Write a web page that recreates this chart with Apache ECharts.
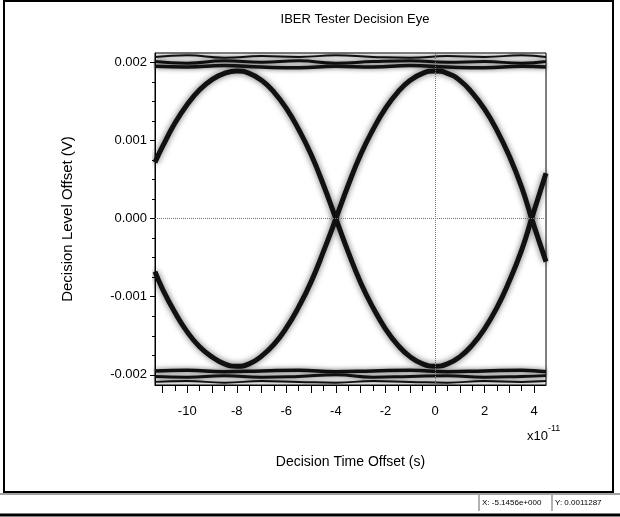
<!DOCTYPE html>
<html>
<head>
<meta charset="utf-8">
<script src="https://cdn.jsdelivr.net/npm/echarts@6/dist/echarts.min.js"></script>
<style>
  html, body { margin: 0; padding: 0; background: #fff; }
  #chart { width: 620px; height: 517px; }
</style>
</head>
<body>
<div id="chart"></div>
<script>
// x values are in units of 1e-11 s, y values in volts
const xMajorTicks = [-11, -10, -9, -8, -7, -6, -5, -4, -3, -2, -1, 0, 1, 2, 3, 4];
const xMinorTicks = [-10.5, -9.5, -8.5, -7.5, -6.5, -5.5, -4.5, -3.5, -2.5, -1.5, -0.5, 0.5, 1.5, 2.5, 3.5];
const xLabels = [-10, -8, -6, -4, -2, 0, 2, 4];
const yLabels = [-0.002, -0.001, 0, 0.001, 0.002];
const yMinorTicks = [-0.00175, -0.0015, -0.00125, -0.00075, -0.0005, -0.00025,
                     0.00025, 0.0005, 0.00075, 0.00125, 0.0015, 0.00175];

// transition trace with its top at -8 and bottom at 0
const traceA = [[-11.3, 0.00072], [-11, 0.00092], [-10.5, 0.00122], [-10, 0.00146], [-9.5, 0.00165],
  [-9, 0.00178], [-8.5, 0.00186], [-8, 0.00189], [-7.5, 0.00186], [-7, 0.00177], [-6.5, 0.00162],
  [-6, 0.00141], [-5.5, 0.00114], [-5, 0.00082], [-4.5, 0.00043], [-4, 0], [-3.5, -0.00043],
  [-3, -0.00082], [-2.5, -0.00114], [-2, -0.00141], [-1.5, -0.00162], [-1, -0.00177], [-0.5, -0.00186],
  [0, -0.00189], [0.5, -0.00186], [1, -0.00177], [1.5, -0.00162], [2, -0.00141], [2.5, -0.00114],
  [3, -0.0008], [3.5, -0.0004], [3.9, 0], [4.48, 0.00058]];

// transition trace with its bottom at -8 and top at 0
const traceB = [[-11.3, -0.00068], [-11, -0.0009], [-10.5, -0.0012], [-10, -0.00145], [-9.5, -0.00164],
  [-9, -0.00177], [-8.5, -0.00186], [-8, -0.00189], [-7.5, -0.00186], [-7, -0.00176], [-6.5, -0.00161],
  [-6, -0.0014], [-5.5, -0.00113], [-5, -0.00081], [-4.5, -0.00042], [-4, 0], [-3.5, 0.00043],
  [-3, 0.00082], [-2.5, 0.00114], [-2, 0.00141], [-1.5, 0.00162], [-1, 0.00177], [-0.5, 0.00186],
  [0, 0.00189], [0.5, 0.00186], [1, 0.00177], [1.5, 0.00161], [2, 0.0014], [2.5, 0.00113],
  [3, 0.0008], [3.5, 0.0004], [3.9, 0], [4.48, -0.00055]];

// steady "1" rail
const upperRailTop = [[-11.3, 0.00207], [-10, 0.00209], [-8.5, 0.00206], [-7, 0.00208], [-5.5, 0.00207],
  [-4, 0.00209], [-2.5, 0.00207], [-1, 0.00206], [0.5, 0.00208], [2, 0.00207], [3.5, 0.00209], [4.48, 0.00207]];
const upperRailMid = [[-11.3, 0.00201], [-10, 0.00199], [-8.5, 0.00202], [-7, 0.002], [-5.5, 0.00202],
  [-4, 0.00199], [-2.5, 0.00201], [-1, 0.00202], [0.5, 0.002], [2, 0.00201], [3.5, 0.00199], [4.48, 0.00201]];
const upperRailLow = [[-11.3, 0.00195], [-10, 0.00194], [-8.5, 0.00196], [-7, 0.00194], [-5.5, 0.00193],
  [-4, 0.00195], [-2.5, 0.00194], [-1, 0.00196], [0.5, 0.00194], [2, 0.00193], [3.5, 0.00195], [4.48, 0.00194]];

// steady "0" rail
const lowerRailHigh = [[-11.3, -0.00195], [-10, -0.00194], [-8.5, -0.00196], [-7, -0.00195], [-5.5, -0.00194],
  [-4, -0.00196], [-2.5, -0.00195], [-1, -0.00194], [0.5, -0.00196], [2, -0.00195], [3.5, -0.00194], [4.48, -0.00196]];
const lowerRailMid = [[-11.3, -0.00202], [-10, -0.00203], [-8.5, -0.00201], [-7, -0.00203], [-5.5, -0.00202],
  [-4, -0.002], [-2.5, -0.00203], [-1, -0.00202], [0.5, -0.00201], [2, -0.00203], [3.5, -0.00202], [4.48, -0.00201]];
const lowerRailLow = [[-11.3, -0.00209], [-10, -0.00208], [-8.5, -0.0021], [-7, -0.00208], [-5.5, -0.00209],
  [-4, -0.0021], [-2.5, -0.00208], [-1, -0.00209], [0.5, -0.0021], [2, -0.00208], [3.5, -0.00209], [4.48, -0.00208]];

const FONT = '"Liberation Sans", Arial, sans-serif';

const chart = echarts.init(document.getElementById('chart'));

function traceSeries(data, width, shadow) {
  return {
    type: 'line',
    data: data,
    smooth: true,
    symbol: 'none',
    silent: true,
    lineStyle: {
      color: '#111',
      width: width,
      shadowColor: 'rgba(0,0,0,0.6)',
      shadowBlur: shadow
    }
  };
}

const series = [
  traceSeries(traceA, 5, 6),
  traceSeries(traceB, 5, 6),
  traceSeries(upperRailTop, 2, 4),
  traceSeries(upperRailMid, 3, 5),
  traceSeries(upperRailLow, 3.5, 5),
  traceSeries(lowerRailHigh, 3.5, 5),
  traceSeries(lowerRailMid, 3, 5),
  traceSeries(lowerRailLow, 2, 4)
];

// dotted zero lines
series[0].markLine = {
  silent: true,
  symbol: ['none', 'none'],
  label: { show: false },
  lineStyle: { type: 'dotted', color: '#777', width: 1 },
  data: [{ yAxis: 0 }, { xAxis: 0 }]
};

const option = {
  animation: false,
  backgroundColor: '#fff',
  title: {
    text: 'IBER Tester Decision Eye',
    left: 350,
    top: 8,
    textAlign: 'center',
    textStyle: { fontFamily: FONT, fontSize: 13, fontWeight: 'normal', color: '#000' }
  },
  grid: {
    left: 155, right: 74, top: 53, bottom: 132,
    show: true, borderColor: '#000', borderWidth: 1
  },
  xAxis: [
    {
      type: 'value', min: -11.3, max: 4.48,
      name: 'Decision Time Offset (s)',
      nameLocation: 'middle', nameGap: 70,
      nameTextStyle: { fontFamily: FONT, fontSize: 14, color: '#000' },
      axisLine: { onZero: false, lineStyle: { color: '#000' } },
      axisTick: { customValues: xMajorTicks, length: 8, lineStyle: { color: '#000' } },
      axisLabel: {
        customValues: xLabels, margin: 20, color: '#000', fontFamily: FONT, fontSize: 13
      },
      splitLine: { show: false }
    },
    {
      type: 'value', min: -11.3, max: 4.48, position: 'bottom',
      axisLine: { show: false, onZero: false },
      axisTick: { customValues: xMinorTicks, length: 6, lineStyle: { color: '#000' } },
      axisLabel: { show: false },
      splitLine: { show: false }
    }
  ],
  yAxis: [
    {
      type: 'value', min: -0.00213, max: 0.00212,
      name: 'Decision Level Offset (V)',
      nameLocation: 'middle', nameGap: 80,
      nameTextStyle: { fontFamily: FONT, fontSize: 15, color: '#000' },
      axisLine: { show: true, onZero: false, lineStyle: { color: '#000' } },
      axisTick: { show: true, customValues: yLabels, length: 5, lineStyle: { color: '#000' } },
      axisLabel: {
        customValues: yLabels, margin: 8, color: '#000', fontFamily: FONT, fontSize: 13,
        formatter: (v) => v.toFixed(3)
      },
      splitLine: { show: false }
    },
    {
      type: 'value', min: -0.00213, max: 0.00212, position: 'left',
      axisLine: { show: false, onZero: false },
      axisTick: { show: true, customValues: yMinorTicks, length: 3, lineStyle: { color: '#000' } },
      axisLabel: { show: false },
      splitLine: { show: false }
    }
  ],
  series: series,
  graphic: [
    // window frame
    { type: 'rect', shape: { x: 4, y: 1, width: 609, height: 491 }, style: { fill: 'none', stroke: '#000', lineWidth: 2 }, silent: true },
    { type: 'line', shape: { x1: 0, y1: 494, x2: 620, y2: 494 }, style: { stroke: '#444', lineWidth: 1 }, silent: true },
    { type: 'line', shape: { x1: 0, y1: 515, x2: 620, y2: 515 }, style: { stroke: '#000', lineWidth: 3 }, silent: true },
    { type: 'line', shape: { x1: 479, y1: 495, x2: 479, y2: 511 }, style: { stroke: '#666', lineWidth: 1 }, silent: true },
    { type: 'line', shape: { x1: 552, y1: 495, x2: 552, y2: 511 }, style: { stroke: '#666', lineWidth: 1 }, silent: true },
    {
      type: 'text', left: 482, top: 499, silent: true,
      style: { text: 'X: -5.1456e+000', font: '8px ' + FONT, fill: '#000' }
    },
    {
      type: 'text', left: 555, top: 499, silent: true,
      style: { text: 'Y: 0.0011287', font: '8px ' + FONT, fill: '#000' }
    },
    // exponent of the x axis
    {
      type: 'text', left: 527, top: 424, silent: true,
      style: {
        text: '{b|x10}{s|-11}',
        rich: {
          b: { fontFamily: FONT, fontSize: 13, fill: '#000', padding: [6, 0, 0, 0] },
          s: { fontFamily: FONT, fontSize: 9, fill: '#000', verticalAlign: 'top' }
        }
      }
    }
  ]
};

chart.setOption(option);
</script>
</body>
</html>
